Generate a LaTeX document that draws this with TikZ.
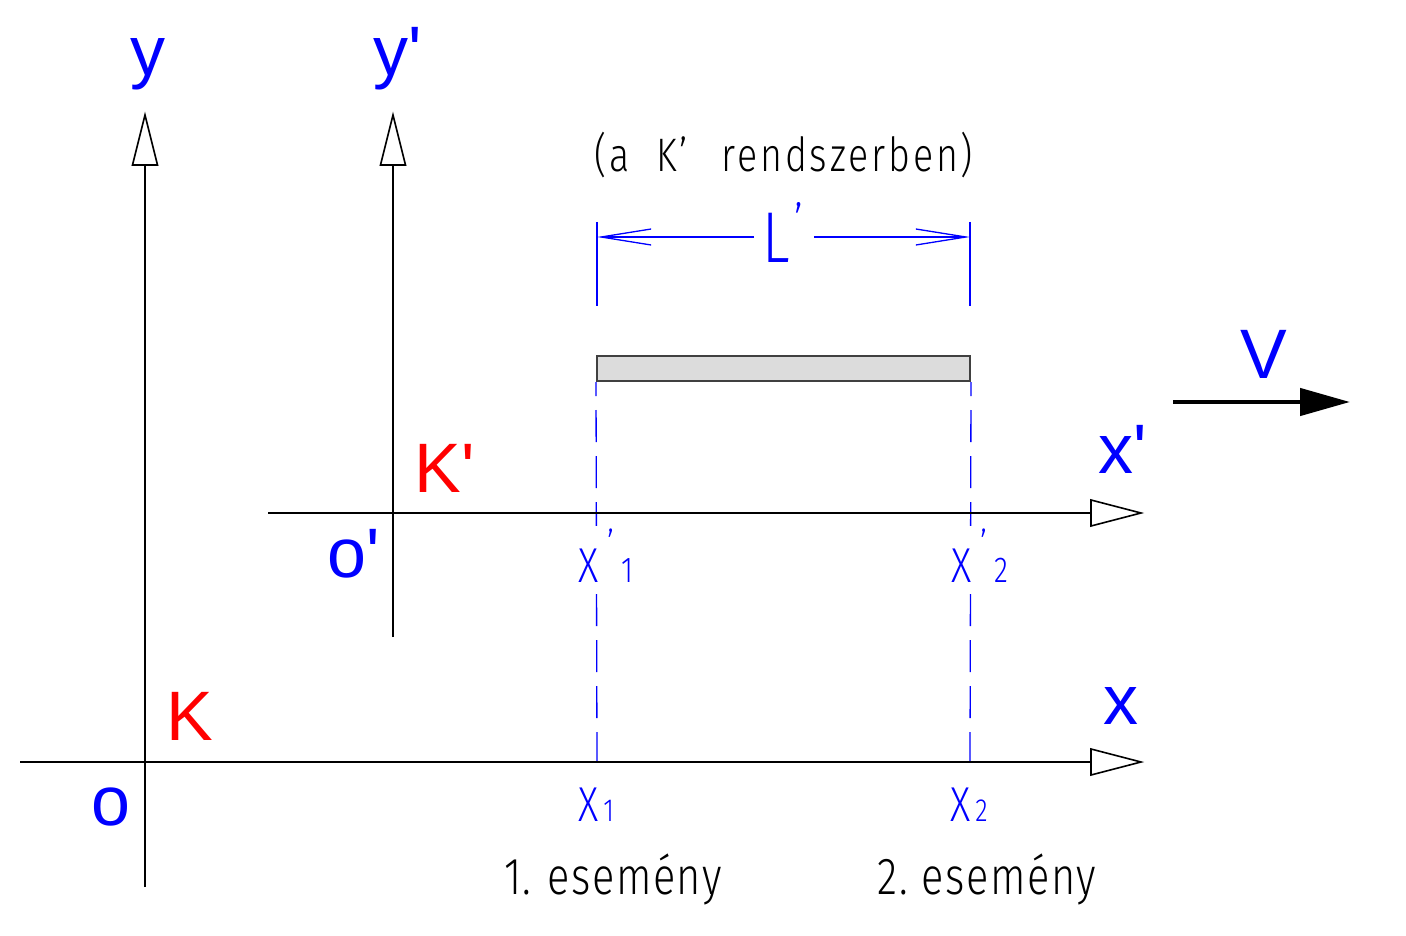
\documentclass[tikz,border=0pt]{standalone}
\usepackage{fontspec}
\setmainfont{Liberation Sans}
\newfontfamily\labfont{Liberation Sans}
\newfontfamily\cad[FakeStretch=0.8]{Fira Sans Light}
\newfontfamily\cadw[FakeStretch=0.8,LetterSpace=6]{Fira Sans Light}
\newfontfamily\cade[FakeStretch=0.8,LetterSpace=3]{Fira Sans Light}
\usetikzlibrary{arrows.meta}
\definecolor{cadblue}{RGB}{0,0,255}
\definecolor{kred}{RGB}{255,0,0}
\definecolor{barfill}{RGB}{220,220,220}
\definecolor{barline}{RGB}{64,64,64}
\begin{document}
\begin{tikzpicture}[x=1pt,y=-1pt,
  axis/.style={line width=1.6pt,black},
  axhead/.style={line width=1.6pt,black,fill=white},
  biglab/.style={font=\labfont\fontsize{70}{70}\selectfont,inner sep=0pt,anchor=base},
  bluelab/.style={biglab,text=cadblue},
  redlab/.style={biglab,text=kred},
  cadline/.style={line width=1.3pt,cadblue},
  caddash/.style={line width=1.3pt,cadblue,dash pattern=on 32pt off 14pt,dash phase=18pt},
  dimtip/.style={-{Straight Barb[length=50pt,width=16pt,line width=1.3pt]}},
  cadtxt/.style={font=\cade\fontsize{52}{52}\selectfont,inner sep=0pt,anchor=base},
  cadbig/.style={font=\cadw\fontsize{47}{47}\selectfont,inner sep=0pt,anchor=base},
  xlab/.style={font=\cad\fontsize{49}{49}\selectfont,text=cadblue,inner sep=0pt,anchor=base west},
  xlabw/.style={xlab,fill=white,inner ysep=2pt},
  barbox/.style={draw=barline,fill=barfill,line width=2pt,minimum width=373pt,minimum height=25pt,inner sep=0pt}
]
\useasboundingbox (0,0) rectangle (1406,936);

% axes coordinates
\coordinate (yb) at (145,887);  \coordinate (yt) at (145,115);
\coordinate (ypb) at (393,637); \coordinate (ypt) at (393,115);
\coordinate (xl) at (20,762);   \coordinate (xr) at (1141,762);
\coordinate (xpl) at (268,513); \coordinate (xpr) at (1141,513);

% dimension coordinates
\coordinate (e1a) at (597,222); \coordinate (e1b) at (597,306);
\coordinate (e2a) at (970,222); \coordinate (e2b) at (970,306);
\coordinate (d1) at (597,237);  \coordinate (d1m) at (754,237);
\coordinate (d2) at (970,237);  \coordinate (d2m) at (814,237);
\coordinate (g1) at (597,762);  \coordinate (g2) at (970,762);

% bar
\node[barbox] (bar) at (783.5,368.5) {};

% dashed projection lines
\draw[caddash] (bar.south west) -- (g1);
\draw[caddash] (bar.south east) -- (g2);

% axes
\draw[axis] (yb) -- (yt);
\draw[axhead] (yt) -- ++(-12.5,50) -- ++(25,0) -- cycle;
\draw[axis] (ypb) -- (ypt);
\draw[axhead] (ypt) -- ++(-12.5,50) -- ++(25,0) -- cycle;
\draw[axis] (xl) -- (xr);
\draw[axhead] (xr) -- ++(-50,-13) -- ++(0,26) -- cycle;
\draw[axis] (xpl) -- (xpr);
\draw[axhead] (xpr) -- ++(-50,-13) -- ++(0,26) -- cycle;

% extension + dimension lines
\draw[cadline] (e1a) -- (e1b);
\draw[cadline] (e2a) -- (e2b);
\draw[cadline,dimtip] (d1m) -- (d1);
\draw[cadline,dimtip] (d2m) -- (d2);
\node[xlab,font=\cad\fontsize{72}{72}\selectfont] (Lp) at (762,262) {L\hspace{5pt}\raisebox{23pt}{\fontsize{50}{50}\selectfont ’}};

% velocity
\coordinate (v0) at (1173,402); \coordinate (v1) at (1350,402);
\draw[line width=4.5pt,-{Triangle[length=50pt,width=27pt]}] (v0) -- (v1);
\node[bluelab] (V) at (1264,378) {V};

% big axis labels
\node[bluelab] (ylab) at (148,76) {y};
\node[bluelab] (yplab) at (398,76) {y'};
\node[bluelab] (xplab) at (1123,473) {x'};
\node[bluelab] (xlab) at (1121,724) {x};
\node[bluelab] (oplab) at (354,577) {o'};
\node[bluelab] (olab) at (111,825) {o};
\node[redlab] (Kplab) at (445,492) {K'};
\node[redlab] (Klab) at (190,740) {K};

% CAD labels
\node[cadbig] (title) at (784,172) {(a\hspace{26pt}K’\hspace{34pt}rendszerben)};

\node[xlabw] (xp1) at (578,582) {X\hspace{9pt}\raisebox{24pt}{\fontsize{40}{40}\selectfont ’}\hspace{7pt}{\fontsize{36}{36}\selectfont 1}};
\node[xlabw] (xp2) at (951,582) {X\hspace{9pt}\raisebox{24pt}{\fontsize{40}{40}\selectfont ’}\hspace{7pt}{\fontsize{36}{36}\selectfont 2}};
\node[xlab] (x1) at (578,821) {X\hspace{5pt}{\fontsize{32}{32}\selectfont 1}};
\node[xlab] (x2) at (950,821) {X\hspace{5pt}{\fontsize{32}{32}\selectfont 2}};

\node[cadtxt] (ev1) at (613,894) {1.\hspace{16pt}esemény};
\node[cadtxt] (ev2) at (987,894) {2.\hspace{14pt}esemény};
\end{tikzpicture}
\end{document}
